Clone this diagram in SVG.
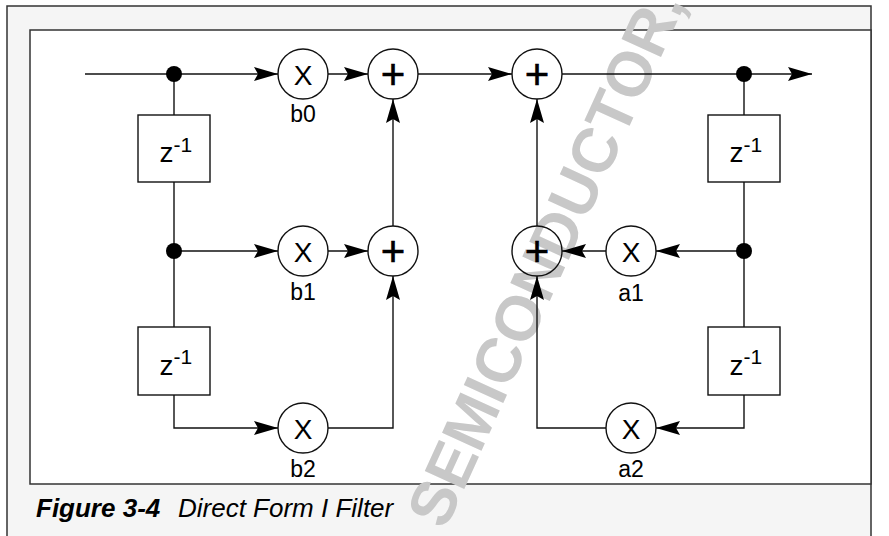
<svg xmlns="http://www.w3.org/2000/svg" width="889" height="536" viewBox="0 0 889 536">
<style>
.frame{fill:#f5f5f5;stroke:#333;stroke-width:1.5}
.panel{fill:#fff;stroke:#333;stroke-width:1.5}
.wire{fill:none;stroke:#111;stroke-width:1.4}
.arr{fill:none;stroke:#111;stroke-width:1.4;marker-end:url(#ah)}
.node{fill:none;stroke:#111;stroke-width:1.4}
.box{fill:#fff;stroke:#111;stroke-width:1.4}
.dot{fill:#000}
.t{font-family:"Liberation Sans",Arial,sans-serif;fill:#000}
.x{font-size:28px;text-anchor:middle}
.plus{font-size:42px;text-anchor:middle;stroke:#000;stroke-width:0.6}
.lbl{font-size:23px;text-anchor:middle}
.z{font-size:28px}
.sup{font-size:21px}
.cap{font-size:26px;font-style:italic}
.wm{font-family:"Liberation Sans",Arial,sans-serif;font-size:63px;font-weight:bold;fill:#c8c8c8}
</style>
<defs>
<marker id="ah" viewBox="0 0 24 14" refX="24" refY="7" markerWidth="24" markerHeight="14" markerUnits="userSpaceOnUse" orient="auto">
<path d="M0,0 L24,7 L0,14 L4,7 Z" fill="#000"/>
</marker>
</defs>
<rect class="frame" x="7" y="6" width="864" height="540"/>
<rect class="panel" x="30" y="30" width="841" height="454"/>
<text class="wm" transform="translate(445,531) rotate(-65.5)">SEMICONDUCTOR,</text>
<g id="connectors">
<path class="arr" d="M85,74 H278"/>
<path class="arr" d="M328,74 H368"/>
<path class="arr" d="M418,74 H512"/>
<path class="arr" d="M562,74 H812"/>
<path class="wire" d="M174,74 V115 M174,182 V327"/>
<path class="arr" d="M174,251 H278"/>
<path class="arr" d="M328,251 H368"/>
<path class="arr" d="M393,226 V99"/>
<path class="arr" d="M174,395 V428 H278"/>
<path class="arr" d="M328,428 H393 V276"/>
<path class="wire" d="M744,74 V115 M744,182 V327"/>
<path class="arr" d="M744,251 H656"/>
<path class="arr" d="M606,251 H562"/>
<path class="arr" d="M537,226 V99"/>
<path class="arr" d="M744,395 V428 H656"/>
<path class="arr" d="M606,428 H537 V276"/>
<circle class="dot" cx="174" cy="74" r="8"/>
<circle class="dot" cx="174" cy="251" r="8"/>
<circle class="dot" cx="744" cy="74" r="8"/>
<circle class="dot" cx="744" cy="251" r="8"/>
</g>
<g id="mul_b0"><circle class="node" cx="303" cy="74" r="25"/><text class="t x" x="303" y="85">X</text><text class="t lbl" x="303" y="122">b0</text></g>
<g id="mul_b1"><circle class="node" cx="303" cy="251" r="25"/><text class="t x" x="303" y="262">X</text><text class="t lbl" x="303" y="300">b1</text></g>
<g id="mul_b2"><circle class="node" cx="303" cy="428" r="25"/><text class="t x" x="303" y="439">X</text><text class="t lbl" x="303" y="477">b2</text></g>
<g id="mul_a1"><circle class="node" cx="631" cy="251" r="25"/><text class="t x" x="631" y="262">X</text><text class="t lbl" x="631" y="301">a1</text></g>
<g id="mul_a2"><circle class="node" cx="631" cy="428" r="25"/><text class="t x" x="631" y="439">X</text><text class="t lbl" x="631" y="477">a2</text></g>
<g id="add_1"><circle class="node" cx="393" cy="74" r="25"/><text class="t plus" x="393" y="89">+</text></g>
<g id="add_2"><circle class="node" cx="393" cy="251" r="25"/><text class="t plus" x="393" y="266">+</text></g>
<g id="add_3"><circle class="node" cx="537" cy="74" r="25"/><text class="t plus" x="537" y="89">+</text></g>
<g id="add_4"><circle class="node" cx="537" cy="251" r="25"/><text class="t plus" x="537" y="266">+</text></g>
<g id="delay_b1"><rect class="box" x="138" y="115" width="72" height="67"/><text class="t z" x="159.5" y="162">z<tspan class="sup" dy="-10.5">-1</tspan></text></g>
<g id="delay_b2"><rect class="box" x="138" y="327" width="72" height="68"/><text class="t z" x="159.5" y="374.5">z<tspan class="sup" dy="-10.5">-1</tspan></text></g>
<g id="delay_a1"><rect class="box" x="708" y="115" width="72" height="67"/><text class="t z" x="729.5" y="162">z<tspan class="sup" dy="-10.5">-1</tspan></text></g>
<g id="delay_a2"><rect class="box" x="708" y="327" width="72" height="68"/><text class="t z" x="729.5" y="374.5">z<tspan class="sup" dy="-10.5">-1</tspan></text></g>
<g id="caption"><text class="t cap" x="36" y="517"><tspan font-weight="bold">Figure 3-4</tspan><tspan x="178">Direct Form I Filter</tspan></text></g>
</svg>
